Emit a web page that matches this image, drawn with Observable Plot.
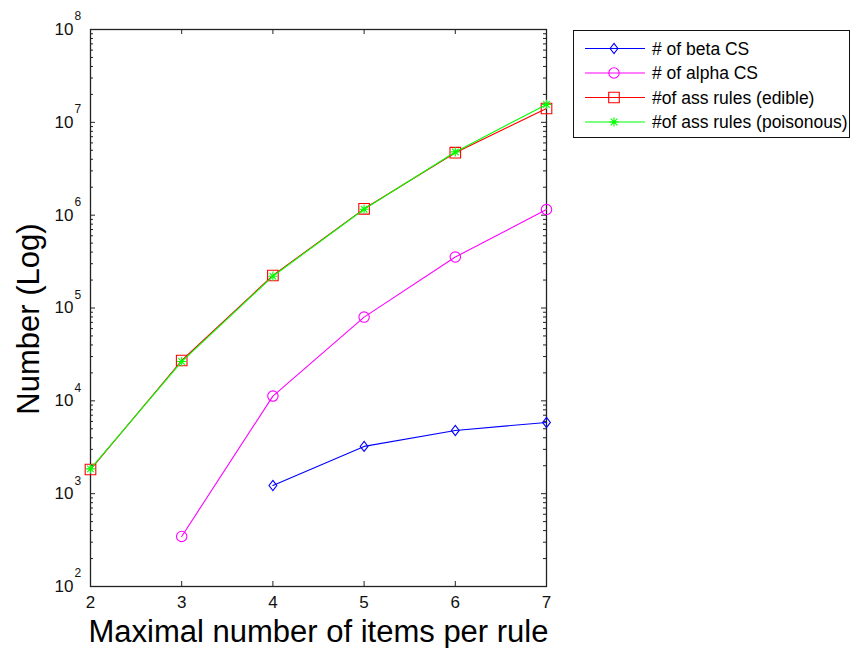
<!DOCTYPE html>
<html><head><meta charset="utf-8">
<script src="https://cdn.jsdelivr.net/npm/d3@7"></script>
<script src="https://cdn.jsdelivr.net/npm/@observablehq/plot@0.6"></script>
<style>body{margin:0;background:#fff} svg{display:block}</style>
</head><body><div id="chart"></div>
<script>
// ---- data ----
const items = [2, 3, 4, 5, 6, 7];
const betaCS = [null, null, 1225, 3230, 4800, 5850];
const alphaCS = [null, 346, 11250, 79800, 354000, 1150000];
const assEdible = [1820, 27200, 224000, 1170000, 4710000, 14100000];
const assPoisonous = [1850, 26500, 220000, 1160000, 4800000, 15600000];
const seriesNames = ["# of beta CS", "# of alpha CS", "#of ass rules (edible)", "#of ass rules (poisonous)"];
const seriesColors = ["#0000ff", "#ff00ff", "#ff0000", "#00ff00"];
const yMajor = [1e2, 1e3, 1e4, 1e5, 1e6, 1e7, 1e8];
const xLabel = "Maximal number of items per rule";
const yLabel = "Number (Log)";

const yMinor = [];
for (let k = 2; k < 8; k++) for (let m = 2; m <= 9; m++) yMinor.push(m * 10 ** k);

// ---- marker shapes (MATLAB style) ----
const symDiamond = {draw(c, s) { const r = Math.sqrt(s / Math.PI); c.moveTo(0, -r * 1.1); c.lineTo(r * 0.85, 0); c.lineTo(0, r * 1.1); c.lineTo(-r * 0.85, 0); c.closePath(); }};
const symCircle = {draw(c, s) { const r = Math.sqrt(s / Math.PI); c.moveTo(r, 0); c.arc(0, 0, r, 0, 2 * Math.PI); }};
const symSquare = {draw(c, s) { const r = Math.sqrt(s / Math.PI); c.rect(-r, -r, 2 * r, 2 * r); }};
const symStar = {draw(c, s) { const r = Math.sqrt(s / Math.PI); const d = r * 0.72;
  c.moveTo(-r, 0); c.lineTo(r, 0); c.moveTo(0, -r); c.lineTo(0, r);
  c.moveTo(-d, -d); c.lineTo(d, d); c.moveTo(-d, d); c.lineTo(d, -d); }};
const seriesSymbols = [symDiamond, symCircle, symSquare, symStar];
const seriesR = [4.6, 5.2, 5.3, 4.6];
const seriesValues = [betaCS, alphaCS, assEdible, assPoisonous];

const seriesData = seriesValues.map(vals =>
  items.map((x, i) => ({x, y: vals[i]})).filter(d => d.y != null));

const font = "'Liberation Sans', Arial, Helvetica, sans-serif";
const W = 851, H = 648, mL = 90, mT = 29, mR = 305, mB = 62;
const fw = W - mL - mR, fh = H - mT - mB;
const tickCol = "#222";

const marks = [
  // inward ticks on all four sides
  Plot.ruleY(yMajor, {y: d => d, insetRight: fw - 5, stroke: tickCol}),
  Plot.ruleY(yMinor, {y: d => d, insetRight: fw - 3, stroke: tickCol}),
  Plot.ruleY(yMajor, {y: d => d, insetLeft: fw - 5, stroke: tickCol}),
  Plot.ruleY(yMinor, {y: d => d, insetLeft: fw - 3, stroke: tickCol}),
  Plot.ruleX(items, {x: d => d, insetTop: fh - 5, stroke: tickCol}),
  Plot.ruleX(items, {x: d => d, insetBottom: fh - 5, stroke: tickCol}),
  Plot.frame({stroke: tickCol, strokeWidth: 1.3}),
  // tick labels
  Plot.text(items, {x: d => d, text: d => String(d), frameAnchor: "bottom", lineAnchor: "middle", dy: 16, fontSize: 17, fill: "#111"}),
  Plot.text(yMajor, {y: d => d, text: () => "10", frameAnchor: "left", textAnchor: "end", lineAnchor: "middle", dx: -17, fontSize: 17, fill: "#111"}),
  Plot.text(yMajor, {y: d => d, text: d => String(Math.round(Math.log10(d))), frameAnchor: "left", textAnchor: "start", lineAnchor: "middle", dx: -16, dy: -13, fontSize: 12, fill: "#111"}),
  // axis titles
  Plot.text([xLabel], {text: d => d, frameAnchor: "bottom", textAnchor: "middle", lineAnchor: "middle", dy: 46, fontSize: 31, fill: "#000"}),
  Plot.text([yLabel], {text: d => d, frameAnchor: "left", textAnchor: "middle", lineAnchor: "middle", dx: -61, dy: 11, rotate: -90, fontSize: 31, fill: "#000"})
];

seriesData.forEach((data, i) => {
  marks.push(Plot.line(data, {x: "x", y: "y", stroke: seriesColors[i], strokeWidth: 1.1}));
  marks.push(Plot.dot(data, {x: "x", y: "y", symbol: seriesSymbols[i], r: seriesR[i], stroke: seriesColors[i], fill: "none", strokeWidth: 1.1}));
});

const svg = Plot.plot({
  width: W,
  height: H,
  marginLeft: mL,
  marginTop: mT,
  marginRight: mR,
  marginBottom: mB,
  style: {fontFamily: font, background: "#fff", overflow: "visible"},
  x: {domain: [2, 7], axis: null},
  y: {type: "log", domain: [1e2, 1e8], axis: null},
  marks
});

// legend box (drawn in the same SVG)
const g = d3.select(svg).append("g").attr("font-family", font).attr("text-anchor", "start");
g.append("rect").attr("x", 573.5).attr("y", 30.5).attr("width", 276).attr("height", 107)
  .attr("fill", "#fff").attr("stroke", "#111").attr("stroke-width", 1);
seriesNames.forEach((name, i) => {
  const y = 48.5 + i * 24.5;
  g.append("line").attr("x1", 585).attr("x2", 645).attr("y1", y).attr("y2", y)
    .attr("stroke", seriesColors[i]).attr("stroke-width", 1.1);
  g.append("path").attr("transform", `translate(614,${y})`)
    .attr("d", d3.symbol(seriesSymbols[i], Math.PI * seriesR[i] ** 2)())
    .attr("fill", "none").attr("stroke", seriesColors[i]).attr("stroke-width", 1.1);
  g.append("text").attr("x", 652).attr("y", y).attr("dy", "0.35em").attr("text-anchor", "start")
    .attr("font-size", 17.5).attr("fill", "#000").text(name);
});

document.getElementById("chart").appendChild(svg);
</script>
</body></html>
